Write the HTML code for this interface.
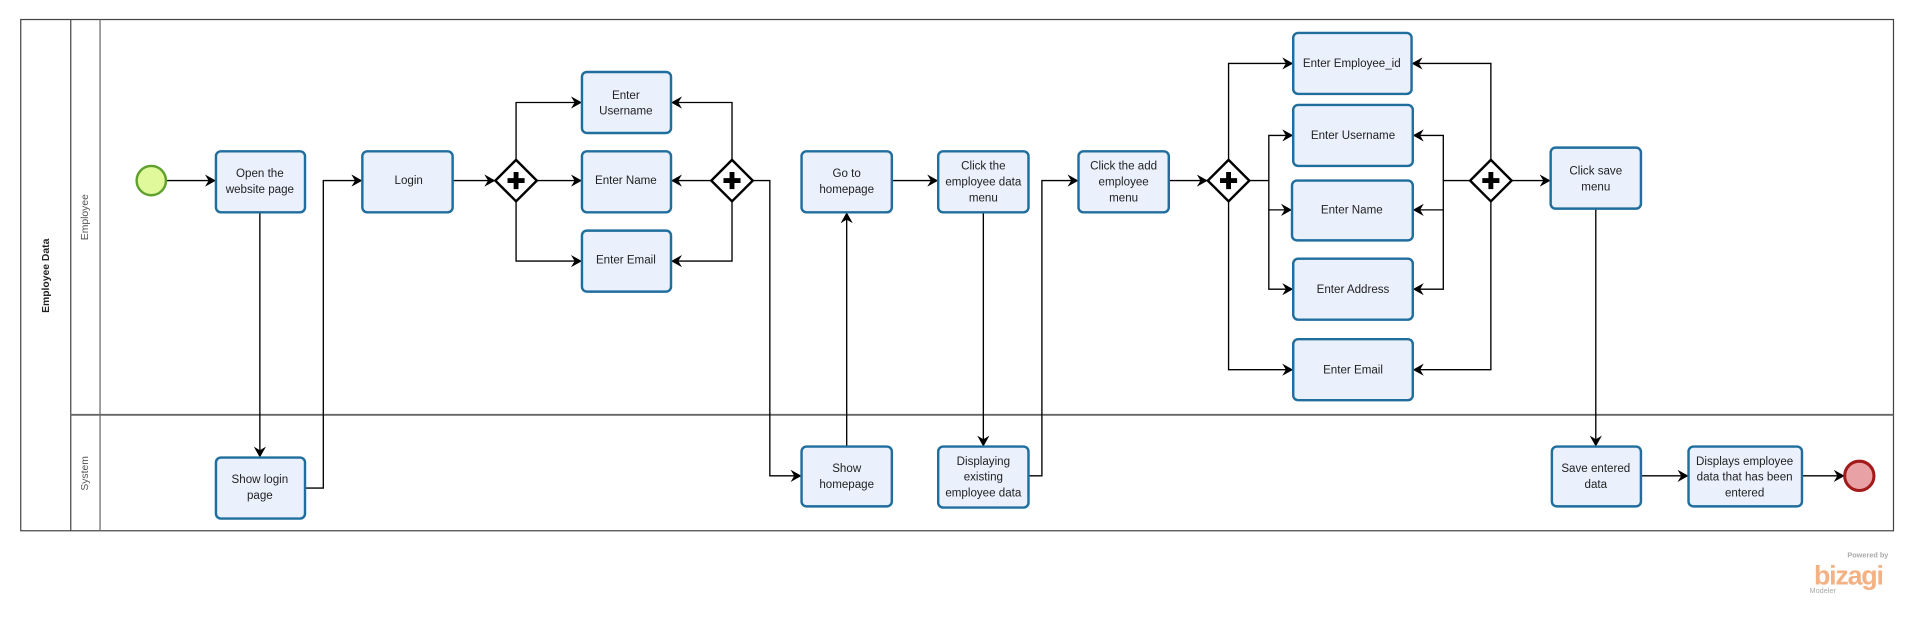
<!DOCTYPE html>
<html><head><meta charset="utf-8"><style>
html,body{margin:0;padding:0;background:#fff;width:1913px;height:623px;overflow:hidden}
svg{display:block}
text{font-family:"Liberation Sans",sans-serif;font-size:9.5px;fill:#222;text-anchor:middle}
.b{fill:#EAF0FC;stroke:#1F6E9E;stroke-width:2}
.l{fill:none;stroke:#000;stroke-width:1.1}
.g{fill:#fff;stroke:#000;stroke-width:2}
</style></head><body>
<svg width="1913" height="623" viewBox="0 0 1568 510.6" preserveAspectRatio="none">
<defs><marker id="a" markerWidth="10" markerHeight="10" refX="8" refY="5" orient="auto" markerUnits="userSpaceOnUse"><path d="M0,0 L9,5 L0,10 L3,5 Z" fill="#000"/></marker></defs>
<!-- pool -->
<rect x="17" y="16" width="1535" height="419" fill="none" stroke="#444" stroke-width="1"/>
<line x1="58" y1="16" x2="58" y2="435" stroke="#444"/>
<line x1="82" y1="16" x2="82" y2="435" stroke="#666"/>
<line x1="58" y1="340" x2="1552" y2="340" stroke="#666" stroke-width="1.5"/>
<text transform="translate(40,226) rotate(-90)" style="font-weight:bold;font-size:8.5px">Employee Data</text>
<text transform="translate(72,178) rotate(-90)" style="font-size:8.5px;fill:#555">Employee</text>
<text transform="translate(72,388) rotate(-90)" style="font-size:8.5px;fill:#555">System</text>
<!-- connectors -->
<g class="l" marker-end="url(#a)">
<path d="M136,148 H176"/>
<path d="M213,174 V374"/>
<path d="M250,400 H265 V148 H296"/>
<path d="M371,148 H405"/>
<path d="M423,131 V84 H476"/>
<path d="M440,148 H476"/>
<path d="M423,165 V214 H476"/>
<path d="M600,131 V84 H551"/>
<path d="M583,148 H551"/>
<path d="M600,165 V214 H551"/>
<path d="M617,148 H631 V390 H656"/>
<path d="M694,366 V175"/>
<path d="M731,148 H768"/>
<path d="M806,174 V365"/>
<path d="M843,390 H854 V148 H883"/>
<path d="M958,148 H989"/>
<path d="M1007,131 V52 H1059"/>
<path d="M1007,165 V303 H1059"/>
<path d="M1024,148 H1040 V111 H1059"/>
<path d="M1040,148 V172 H1058"/>
<path d="M1040,172 V237 H1059"/>
<path d="M1222,131 V52 H1158"/>
<path d="M1222,165 V303 H1159"/>
<path d="M1205,148 H1183 V111 H1159"/>
<path d="M1183,148 V172 H1159"/>
<path d="M1183,172 V237 H1159"/>
<path d="M1239,148 H1270"/>
<path d="M1308,171 V365"/>
<path d="M1345,390 H1383"/>
<path d="M1477,390 H1511"/>
</g>
<!-- events -->
<circle cx="124" cy="148" r="12" fill="#E0F99A" stroke="#5FA02E" stroke-width="2"/>
<circle cx="1524" cy="390" r="12" fill="#E8A2A5" stroke="#A31A1A" stroke-width="2.5"/>
<!-- gateways -->
<g>
<path class="g" d="M423,131 L440,148 L423,165 L406,148 Z"/><path d="M423,141 V155 M416,148 H430" stroke="#000" stroke-width="4"/>
<path class="g" d="M600,131 L617,148 L600,165 L583,148 Z"/><path d="M600,141 V155 M593,148 H607" stroke="#000" stroke-width="4"/>
<path class="g" d="M1007,131 L1024,148 L1007,165 L990,148 Z"/><path d="M1007,141 V155 M1000,148 H1014" stroke="#000" stroke-width="4"/>
<path class="g" d="M1222,131 L1239,148 L1222,165 L1205,148 Z"/><path d="M1222,141 V155 M1215,148 H1229" stroke="#000" stroke-width="4"/>
</g>
<!-- tasks -->
<rect class="b" x="177" y="124" width="73" height="50" rx="4"/><text x="213" y="145">Open the</text><text x="213" y="158">website page</text>
<rect class="b" x="297" y="124" width="74" height="50" rx="4"/><text x="335" y="151">Login</text>
<rect class="b" x="477" y="59" width="73" height="50" rx="4"/><text x="513" y="81">Enter</text><text x="513" y="94">Username</text>
<rect class="b" x="477" y="124" width="73" height="50" rx="4"/><text x="513" y="151">Enter  Name</text>
<rect class="b" x="477" y="189" width="73" height="50" rx="4"/><text x="513" y="216">Enter Email</text>
<rect class="b" x="657" y="124" width="74" height="50" rx="4"/><text x="694" y="145">Go to</text><text x="694" y="158">homepage</text>
<rect class="b" x="769" y="124" width="74" height="50" rx="4"/><text x="806" y="139">Click the</text><text x="806" y="152">employee data</text><text x="806" y="165">menu</text>
<rect class="b" x="884" y="124" width="74" height="50" rx="4"/><text x="921" y="139">Click the add</text><text x="921" y="152">employee</text><text x="921" y="165">menu</text>
<rect class="b" x="1060" y="27" width="97" height="50" rx="4"/><text x="1108" y="55">Enter Employee_id</text>
<rect class="b" x="1060" y="86" width="98" height="50" rx="4"/><text x="1109" y="114">Enter  Username</text>
<rect class="b" x="1059" y="148" width="99" height="49" rx="4"/><text x="1108" y="175">Enter Name</text>
<rect class="b" x="1060" y="212" width="98" height="50" rx="4"/><text x="1109" y="240">Enter Address</text>
<rect class="b" x="1060" y="278" width="98" height="50" rx="4"/><text x="1109" y="306">Enter Email</text>
<rect class="b" x="1271" y="121" width="74" height="50" rx="4"/><text x="1308" y="143">Click save</text><text x="1308" y="156">menu</text>
<rect class="b" x="177" y="375" width="73" height="50" rx="4"/><text x="213" y="396">Show login</text><text x="213" y="409">page</text>
<rect class="b" x="657" y="366" width="74" height="49" rx="4"/><text x="694" y="387">Show</text><text x="694" y="400">homepage</text>
<rect class="b" x="769" y="366" width="74" height="50" rx="4"/><text x="806" y="381">Displaying</text><text x="806" y="394">existing</text><text x="806" y="407">employee data</text>
<rect class="b" x="1272" y="366" width="73" height="49" rx="4"/><text x="1308" y="387">Save entered</text><text x="1308" y="400">data</text>
<rect class="b" x="1384" y="366" width="93" height="49" rx="4"/><text x="1430" y="381">Displays employee</text><text x="1430" y="394">data that has been</text><text x="1430" y="407">entered</text>
<!-- logo -->
<text x="1531" y="457" style="font-size:6px;fill:#aaa;font-weight:bold">Powered by</text>
<text x="1515" y="479" style="font-size:22px;fill:#F4B183;font-weight:bold;letter-spacing:-1px">bizagi</text>
<text x="1494" y="486" style="font-size:6px;fill:#aaa">Modeler</text>
</svg>
</body></html>
